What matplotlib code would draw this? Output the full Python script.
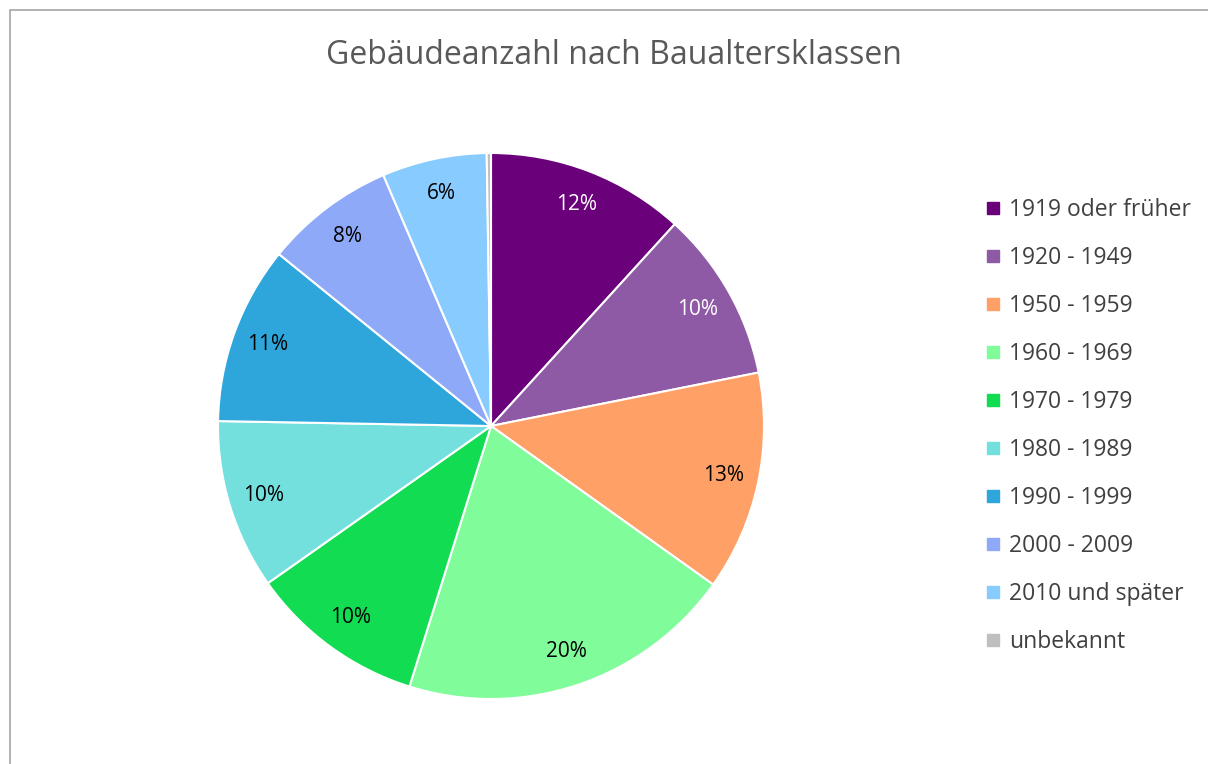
import matplotlib
matplotlib.use("Agg")
import matplotlib.pyplot as plt
from matplotlib.patches import Rectangle
from matplotlib.lines import Line2D

plt.rcParams['font.family'] = ['Open Sans', 'DejaVu Sans']

title = "Gebäudeanzahl nach Baualtersklassen"
categories = ["1919 oder früher", "1920 - 1949", "1950 - 1959", "1960 - 1969",
              "1970 - 1979", "1980 - 1989", "1990 - 1999", "2000 - 2009",
              "2010 und später", "unbekannt"]
values = [11.75, 10.1, 13.0, 19.95, 10.4, 10.05, 10.55, 7.7, 6.2, 0.25]
colors = ["#6B007B", "#8E5AA6", "#FFA066", "#80FC9A", "#12DC52",
          "#74E0DE", "#2EA6DC", "#8DA9F8", "#87CBFF", "#BFBFBF"]
label_colors = ["white", "white", "black", "black", "black",
                "black", "black", "black", "black", "black"]

W, H = 1208, 764
fig = plt.figure(figsize=(W / 100, H / 100), dpi=100)
fig.patch.set_facecolor("white")

# chart border
fig.add_artist(Rectangle((10 / W, -0.05), 1.1, (H - 10) / H + 0.05,
                         transform=fig.transFigure, fill=False,
                         edgecolor="#A6A6A6", linewidth=1.2))

cx, cy, r = 491, 426, 273
ax = fig.add_axes([(cx - r) / W, (H - cy - r) / H, 2 * r / W, 2 * r / H])

def fmt(p):
    return "" if p < 1 else f"{p:.0f}%"

wedges, texts, autotexts = ax.pie(values, colors=colors, startangle=90,
                                  counterclock=False, autopct=fmt,
                                  pctdistance=0.87,
                                  wedgeprops=dict(edgecolor="white", linewidth=1.5),
                                  textprops=dict(fontsize=15))
for t, c in zip(autotexts, label_colors):
    t.set_color(c)
ax.set_aspect("equal")
ax.set_xlim(-1, 1)
ax.set_ylim(-1, 1)

fig.text(614 / W, 1 - 55 / H, title, ha="center", va="center",
         fontsize=23, color="#595959")

handles = [Line2D([], [], marker="s", linestyle="none", markersize=9,
                  markerfacecolor=c, markeredgecolor=c) for c in colors]
fig.legend(handles, categories, loc="center left",
           bbox_to_anchor=(977 / W, 1 - 426 / H), frameon=False,
           fontsize=16.5, labelcolor="#404040", handlelength=0.6,
           handletextpad=0.4, labelspacing=1.045, borderaxespad=0)

fig.savefig("out.png", dpi=100, facecolor="white")
